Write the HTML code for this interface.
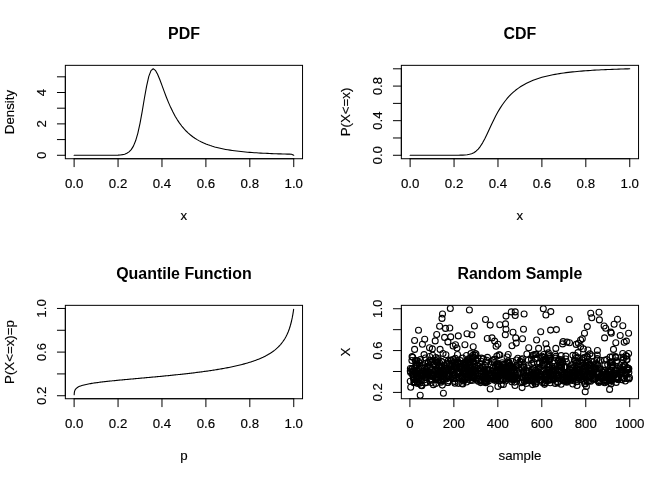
<!DOCTYPE html>
<html><head><meta charset="utf-8"><style>
html,body{margin:0;padding:0;background:#fff;}
svg{display:block;will-change:transform;}
text{font-family:"Liberation Sans", sans-serif;text-anchor:middle;fill:#000;stroke:#000;stroke-width:0.15px;} text[font-weight="bold"]{stroke:none;}
</style></head><body>
<svg width="672" height="480" viewBox="0 0 672 480">
<g stroke="#000" stroke-width="1" fill="none" stroke-linecap="round">
<rect x="65.34" y="65.34" width="237.20" height="93.39" fill="none"/>
<line x1="74.12" y1="158.73" x2="293.75" y2="158.73"/>
<line x1="74.12" y1="158.73" x2="74.12" y2="166.69"/>
<line x1="118.05" y1="158.73" x2="118.05" y2="166.69"/>
<line x1="161.97" y1="158.73" x2="161.97" y2="166.69"/>
<line x1="205.90" y1="158.73" x2="205.90" y2="166.69"/>
<line x1="249.82" y1="158.73" x2="249.82" y2="166.69"/>
<line x1="293.75" y1="158.73" x2="293.75" y2="166.69"/>
<text x="74.12" y="188.21" font-size="13.28">0.0</text>
<text x="118.05" y="188.21" font-size="13.28">0.2</text>
<text x="161.97" y="188.21" font-size="13.28">0.4</text>
<text x="205.90" y="188.21" font-size="13.28">0.6</text>
<text x="249.82" y="188.21" font-size="13.28">0.8</text>
<text x="293.75" y="188.21" font-size="13.28">1.0</text>
<line x1="65.34" y1="155.27" x2="65.34" y2="76.82"/>
<line x1="65.34" y1="155.27" x2="57.37" y2="155.27"/>
<line x1="65.34" y1="139.58" x2="57.37" y2="139.58"/>
<line x1="65.34" y1="123.89" x2="57.37" y2="123.89"/>
<line x1="65.34" y1="108.20" x2="57.37" y2="108.20"/>
<line x1="65.34" y1="92.51" x2="57.37" y2="92.51"/>
<line x1="65.34" y1="76.82" x2="57.37" y2="76.82"/>
<text x="0" y="0" transform="translate(46.21,155.27) rotate(-90)" font-size="13.28">0</text>
<text x="0" y="0" transform="translate(46.21,123.89) rotate(-90)" font-size="13.28">2</text>
<text x="0" y="0" transform="translate(46.21,92.51) rotate(-90)" font-size="13.28">4</text>
<text x="183.94" y="38.57" font-size="15.94" font-weight="bold">PDF</text>
<text x="183.94" y="220.08" font-size="13.28">x</text>
<text x="0" y="0" transform="translate(14.34,112.03) rotate(-90)" font-size="13.28">Density</text>
<path d="M74.12,155.27 L76.32,155.27 L78.52,155.27 L80.71,155.27 L82.91,155.27 L85.10,155.27 L87.30,155.27 L89.50,155.27 L91.69,155.27 L93.89,155.27 L96.09,155.27 L98.28,155.27 L100.48,155.27 L102.67,155.27 L104.87,155.27 L107.07,155.26 L109.26,155.26 L111.46,155.25 L113.66,155.23 L115.85,155.18 L118.05,155.10 L120.24,154.95 L122.44,154.66 L124.64,154.17 L126.83,153.32 L129.03,151.91 L131.23,149.64 L133.42,146.10 L135.62,140.81 L137.81,133.30 L140.01,123.37 L142.21,111.32 L144.40,98.28 L146.60,86.03 L148.80,76.40 L150.99,70.60 L153.19,68.80 L155.38,70.35 L157.58,74.26 L159.78,79.53 L161.97,85.42 L164.17,91.42 L166.37,97.21 L168.56,102.62 L170.76,107.60 L172.95,112.11 L175.15,116.18 L177.35,119.84 L179.54,123.11 L181.74,126.04 L183.94,128.66 L186.13,131.01 L188.33,133.12 L190.52,135.01 L192.72,136.72 L194.92,138.25 L197.11,139.63 L199.31,140.88 L201.51,142.01 L203.70,143.04 L205.90,143.97 L208.09,144.82 L210.29,145.59 L212.49,146.29 L214.68,146.93 L216.88,147.52 L219.08,148.06 L221.27,148.55 L223.47,149.01 L225.67,149.42 L227.86,149.81 L230.06,150.16 L232.25,150.49 L234.45,150.79 L236.65,151.07 L238.84,151.32 L241.04,151.56 L243.24,151.78 L245.43,151.99 L247.63,152.18 L249.82,152.36 L252.02,152.52 L254.22,152.68 L256.41,152.82 L258.61,152.96 L260.81,153.08 L263.00,153.20 L265.20,153.31 L267.39,153.41 L269.59,153.51 L271.79,153.60 L273.98,153.68 L276.18,153.76 L278.38,153.84 L280.57,153.91 L282.77,153.97 L284.96,154.04 L287.16,154.10 L289.36,154.15 L291.55,154.20 L293.75,155.27" fill="none" stroke-width="1.1" stroke-linejoin="round" stroke-linecap="round"/>
<rect x="401.34" y="65.34" width="237.20" height="93.39" fill="none"/>
<line x1="410.12" y1="158.73" x2="629.75" y2="158.73"/>
<line x1="410.12" y1="158.73" x2="410.12" y2="166.69"/>
<line x1="454.05" y1="158.73" x2="454.05" y2="166.69"/>
<line x1="497.97" y1="158.73" x2="497.97" y2="166.69"/>
<line x1="541.90" y1="158.73" x2="541.90" y2="166.69"/>
<line x1="585.82" y1="158.73" x2="585.82" y2="166.69"/>
<line x1="629.75" y1="158.73" x2="629.75" y2="166.69"/>
<text x="410.12" y="188.21" font-size="13.28">0.0</text>
<text x="454.05" y="188.21" font-size="13.28">0.2</text>
<text x="497.97" y="188.21" font-size="13.28">0.4</text>
<text x="541.90" y="188.21" font-size="13.28">0.6</text>
<text x="585.82" y="188.21" font-size="13.28">0.8</text>
<text x="629.75" y="188.21" font-size="13.28">1.0</text>
<line x1="401.34" y1="155.27" x2="401.34" y2="68.80"/>
<line x1="401.34" y1="155.27" x2="393.37" y2="155.27"/>
<line x1="401.34" y1="137.97" x2="393.37" y2="137.97"/>
<line x1="401.34" y1="120.68" x2="393.37" y2="120.68"/>
<line x1="401.34" y1="103.38" x2="393.37" y2="103.38"/>
<line x1="401.34" y1="86.09" x2="393.37" y2="86.09"/>
<line x1="401.34" y1="68.80" x2="393.37" y2="68.80"/>
<text x="0" y="0" transform="translate(382.21,155.27) rotate(-90)" font-size="13.28">0.0</text>
<text x="0" y="0" transform="translate(382.21,120.68) rotate(-90)" font-size="13.28">0.4</text>
<text x="0" y="0" transform="translate(382.21,86.09) rotate(-90)" font-size="13.28">0.8</text>
<text x="519.94" y="38.57" font-size="15.94" font-weight="bold">CDF</text>
<text x="519.94" y="220.08" font-size="13.28">x</text>
<text x="0" y="0" transform="translate(350.34,112.03) rotate(-90)" font-size="13.28">P(X&lt;=x)</text>
<path d="M410.12,155.27 L412.32,155.27 L414.52,155.27 L416.71,155.27 L418.91,155.27 L421.10,155.27 L423.30,155.27 L425.50,155.27 L427.69,155.27 L429.89,155.27 L432.09,155.27 L434.28,155.27 L436.48,155.27 L438.67,155.27 L440.87,155.27 L443.07,155.27 L445.26,155.27 L447.46,155.27 L449.66,155.26 L451.85,155.26 L454.05,155.25 L456.24,155.24 L458.44,155.22 L460.64,155.17 L462.83,155.09 L465.03,154.95 L467.23,154.70 L469.42,154.30 L471.62,153.66 L473.81,152.67 L476.01,151.19 L478.21,149.11 L480.40,146.33 L482.60,142.85 L484.80,138.75 L486.99,134.22 L489.19,129.49 L491.38,124.75 L493.58,120.17 L495.78,115.85 L497.97,111.83 L500.17,108.15 L502.37,104.79 L504.56,101.74 L506.76,98.98 L508.95,96.48 L511.15,94.22 L513.35,92.16 L515.54,90.30 L517.74,88.61 L519.94,87.08 L522.13,85.67 L524.33,84.40 L526.52,83.23 L528.72,82.16 L530.92,81.18 L533.11,80.28 L535.31,79.46 L537.51,78.69 L539.70,77.99 L541.90,77.34 L544.09,76.75 L546.29,76.19 L548.49,75.68 L550.68,75.20 L552.88,74.76 L555.08,74.35 L557.27,73.96 L559.47,73.60 L561.67,73.27 L563.86,72.96 L566.06,72.67 L568.25,72.40 L570.45,72.14 L572.65,71.90 L574.84,71.68 L577.04,71.47 L579.24,71.27 L581.43,71.08 L583.63,70.91 L585.82,70.74 L588.02,70.59 L590.22,70.44 L592.41,70.30 L594.61,70.17 L596.81,70.05 L599.00,69.93 L601.20,69.82 L603.39,69.71 L605.59,69.61 L607.79,69.52 L609.98,69.43 L612.18,69.34 L614.38,69.26 L616.57,69.19 L618.77,69.11 L620.96,69.04 L623.16,68.98 L625.36,68.91 L627.55,68.85 L629.75,68.80" fill="none" stroke-width="1.1" stroke-linejoin="round" stroke-linecap="round"/>
<rect x="65.34" y="305.34" width="237.20" height="93.39" fill="none"/>
<line x1="74.12" y1="398.73" x2="293.75" y2="398.73"/>
<line x1="74.12" y1="398.73" x2="74.12" y2="406.69"/>
<line x1="118.05" y1="398.73" x2="118.05" y2="406.69"/>
<line x1="161.97" y1="398.73" x2="161.97" y2="406.69"/>
<line x1="205.90" y1="398.73" x2="205.90" y2="406.69"/>
<line x1="249.82" y1="398.73" x2="249.82" y2="406.69"/>
<line x1="293.75" y1="398.73" x2="293.75" y2="406.69"/>
<text x="74.12" y="428.21" font-size="13.28">0.0</text>
<text x="118.05" y="428.21" font-size="13.28">0.2</text>
<text x="161.97" y="428.21" font-size="13.28">0.4</text>
<text x="205.90" y="428.21" font-size="13.28">0.6</text>
<text x="249.82" y="428.21" font-size="13.28">0.8</text>
<text x="293.75" y="428.21" font-size="13.28">1.0</text>
<line x1="65.34" y1="395.74" x2="65.34" y2="308.46"/>
<line x1="65.34" y1="395.74" x2="57.37" y2="395.74"/>
<line x1="65.34" y1="373.92" x2="57.37" y2="373.92"/>
<line x1="65.34" y1="352.10" x2="57.37" y2="352.10"/>
<line x1="65.34" y1="330.28" x2="57.37" y2="330.28"/>
<line x1="65.34" y1="308.46" x2="57.37" y2="308.46"/>
<text x="0" y="0" transform="translate(46.21,395.74) rotate(-90)" font-size="13.28">0.2</text>
<text x="0" y="0" transform="translate(46.21,352.10) rotate(-90)" font-size="13.28">0.6</text>
<text x="0" y="0" transform="translate(46.21,308.46) rotate(-90)" font-size="13.28">1.0</text>
<text x="183.94" y="278.57" font-size="15.94" font-weight="bold">Quantile Function</text>
<text x="183.94" y="460.08" font-size="13.28">p</text>
<text x="0" y="0" transform="translate(14.34,352.03) rotate(-90)" font-size="13.28">P(X&lt;=x)=p</text>
<path d="M74.19,394.64 L74.23,393.82 L74.34,392.65 L74.56,391.43 L75.00,390.15 L75.66,389.05 L76.32,388.33 L77.42,387.48 L78.52,386.85 L79.61,386.35 L80.71,385.93 L81.81,385.56 L82.91,385.24 L84.01,384.95 L85.10,384.68 L86.20,384.43 L87.30,384.20 L88.40,383.99 L89.50,383.79 L90.59,383.60 L91.69,383.41 L92.79,383.24 L93.89,383.07 L94.99,382.91 L96.09,382.75 L97.18,382.60 L98.28,382.45 L99.38,382.31 L100.48,382.17 L101.58,382.04 L102.67,381.91 L103.77,381.78 L104.87,381.65 L105.97,381.53 L107.07,381.40 L108.16,381.28 L109.26,381.17 L110.36,381.05 L111.46,380.94 L112.56,380.82 L113.66,380.71 L114.75,380.60 L115.85,380.49 L116.95,380.38 L118.05,380.28 L119.15,380.17 L120.24,380.06 L121.34,379.96 L122.44,379.85 L123.54,379.75 L124.64,379.65 L125.73,379.55 L126.83,379.45 L127.93,379.34 L129.03,379.24 L130.13,379.14 L131.23,379.04 L132.32,378.94 L133.42,378.84 L134.52,378.74 L135.62,378.64 L136.72,378.55 L137.81,378.45 L138.91,378.35 L140.01,378.25 L141.11,378.15 L142.21,378.05 L143.31,377.95 L144.40,377.85 L145.50,377.75 L146.60,377.65 L147.70,377.55 L148.80,377.45 L149.89,377.35 L150.99,377.25 L152.09,377.15 L153.19,377.05 L154.29,376.95 L155.38,376.85 L156.48,376.75 L157.58,376.64 L158.68,376.54 L159.78,376.44 L160.88,376.33 L161.97,376.23 L163.07,376.12 L164.17,376.02 L165.27,375.91 L166.37,375.80 L167.46,375.70 L168.56,375.59 L169.66,375.48 L170.76,375.37 L171.86,375.26 L172.95,375.15 L174.05,375.03 L175.15,374.92 L176.25,374.81 L177.35,374.69 L178.45,374.57 L179.54,374.46 L180.64,374.34 L181.74,374.22 L182.84,374.10 L183.94,373.98 L185.03,373.86 L186.13,373.73 L187.23,373.61 L188.33,373.48 L189.43,373.35 L190.52,373.22 L191.62,373.09 L192.72,372.96 L193.82,372.83 L194.92,372.69 L196.02,372.56 L197.11,372.42 L198.21,372.28 L199.31,372.14 L200.41,371.99 L201.51,371.85 L202.60,371.70 L203.70,371.55 L204.80,371.40 L205.90,371.25 L207.00,371.09 L208.09,370.94 L209.19,370.78 L210.29,370.62 L211.39,370.45 L212.49,370.29 L213.59,370.12 L214.68,369.94 L215.78,369.77 L216.88,369.59 L217.98,369.41 L219.08,369.23 L220.17,369.04 L221.27,368.85 L222.37,368.66 L223.47,368.46 L224.57,368.26 L225.67,368.06 L226.76,367.85 L227.86,367.64 L228.96,367.42 L230.06,367.20 L231.16,366.98 L232.25,366.75 L233.35,366.51 L234.45,366.27 L235.55,366.03 L236.65,365.78 L237.74,365.52 L238.84,365.26 L239.94,364.99 L241.04,364.72 L242.14,364.44 L243.24,364.15 L244.33,363.86 L245.43,363.55 L246.53,363.24 L247.63,362.92 L248.73,362.59 L249.82,362.26 L250.92,361.91 L252.02,361.55 L253.12,361.18 L254.22,360.80 L255.31,360.40 L256.41,360.00 L257.51,359.58 L258.61,359.14 L259.71,358.69 L260.81,358.22 L261.90,357.73 L263.00,357.23 L264.10,356.70 L265.20,356.15 L266.30,355.58 L267.39,354.98 L268.49,354.35 L269.59,353.69 L270.69,353.00 L271.79,352.27 L272.88,351.51 L273.98,350.69 L275.08,349.83 L276.18,348.91 L277.28,347.93 L278.38,346.88 L279.47,345.75 L280.57,344.53 L281.67,343.21 L282.77,341.76 L283.87,340.17 L284.96,338.42 L286.06,336.45 L287.16,334.23 L288.26,331.70 L289.36,328.75 L290.45,325.26 L291.55,321.00 L292.21,317.94 L292.87,314.36 L293.31,311.61 L293.53,310.09 L293.64,309.29" fill="none" stroke-width="1.1" stroke-linejoin="round" stroke-linecap="round"/>
<rect x="401.34" y="305.34" width="237.20" height="93.39" fill="none"/>
<line x1="409.90" y1="398.73" x2="629.75" y2="398.73"/>
<line x1="409.90" y1="398.73" x2="409.90" y2="406.69"/>
<line x1="453.87" y1="398.73" x2="453.87" y2="406.69"/>
<line x1="497.84" y1="398.73" x2="497.84" y2="406.69"/>
<line x1="541.81" y1="398.73" x2="541.81" y2="406.69"/>
<line x1="585.78" y1="398.73" x2="585.78" y2="406.69"/>
<line x1="629.75" y1="398.73" x2="629.75" y2="406.69"/>
<text x="409.90" y="428.21" font-size="13.28">0</text>
<text x="453.87" y="428.21" font-size="13.28">200</text>
<text x="497.84" y="428.21" font-size="13.28">400</text>
<text x="541.81" y="428.21" font-size="13.28">600</text>
<text x="585.78" y="428.21" font-size="13.28">800</text>
<text x="629.75" y="428.21" font-size="13.28">1000</text>
<line x1="401.34" y1="392.40" x2="401.34" y2="308.74"/>
<line x1="401.34" y1="392.40" x2="393.37" y2="392.40"/>
<line x1="401.34" y1="371.49" x2="393.37" y2="371.49"/>
<line x1="401.34" y1="350.57" x2="393.37" y2="350.57"/>
<line x1="401.34" y1="329.66" x2="393.37" y2="329.66"/>
<line x1="401.34" y1="308.74" x2="393.37" y2="308.74"/>
<text x="0" y="0" transform="translate(382.21,392.40) rotate(-90)" font-size="13.28">0.2</text>
<text x="0" y="0" transform="translate(382.21,350.57) rotate(-90)" font-size="13.28">0.6</text>
<text x="0" y="0" transform="translate(382.21,308.74) rotate(-90)" font-size="13.28">1.0</text>
<text x="519.94" y="278.57" font-size="15.94" font-weight="bold">Random Sample</text>
<text x="519.94" y="460.08" font-size="13.28">sample</text>
<text x="0" y="0" transform="translate(350.34,352.03) rotate(-90)" font-size="13.28">X</text>
<g fill="none" stroke-width="1.1"><circle cx="512.34" cy="379.35" r="2.988"/><circle cx="536.37" cy="372.72" r="2.988"/><circle cx="496.27" cy="370.64" r="2.988"/><circle cx="521.19" cy="382.70" r="2.988"/><circle cx="549.81" cy="378.92" r="2.988"/><circle cx="597.19" cy="358.62" r="2.988"/><circle cx="533.34" cy="380.91" r="2.988"/><circle cx="494.14" cy="379.32" r="2.988"/><circle cx="621.29" cy="357.19" r="2.988"/><circle cx="448.01" cy="370.18" r="2.988"/><circle cx="420.11" cy="375.01" r="2.988"/><circle cx="609.62" cy="372.49" r="2.988"/><circle cx="468.51" cy="369.19" r="2.988"/><circle cx="443.40" cy="376.57" r="2.988"/><circle cx="494.74" cy="379.14" r="2.988"/><circle cx="485.43" cy="365.43" r="2.988"/><circle cx="488.02" cy="369.00" r="2.988"/><circle cx="597.05" cy="372.47" r="2.988"/><circle cx="473.91" cy="364.34" r="2.988"/><circle cx="439.26" cy="371.75" r="2.988"/><circle cx="457.49" cy="354.44" r="2.988"/><circle cx="618.70" cy="377.81" r="2.988"/><circle cx="504.31" cy="371.66" r="2.988"/><circle cx="489.35" cy="373.01" r="2.988"/><circle cx="580.85" cy="375.27" r="2.988"/><circle cx="615.61" cy="370.86" r="2.988"/><circle cx="522.18" cy="377.26" r="2.988"/><circle cx="589.02" cy="364.91" r="2.988"/><circle cx="468.23" cy="362.10" r="2.988"/><circle cx="487.09" cy="379.34" r="2.988"/><circle cx="536.72" cy="373.31" r="2.988"/><circle cx="462.04" cy="376.54" r="2.988"/><circle cx="470.57" cy="380.52" r="2.988"/><circle cx="451.31" cy="360.60" r="2.988"/><circle cx="467.73" cy="373.97" r="2.988"/><circle cx="594.46" cy="378.93" r="2.988"/><circle cx="584.68" cy="368.92" r="2.988"/><circle cx="435.15" cy="377.86" r="2.988"/><circle cx="486.76" cy="360.28" r="2.988"/><circle cx="568.75" cy="377.58" r="2.988"/><circle cx="598.94" cy="382.45" r="2.988"/><circle cx="533.16" cy="377.88" r="2.988"/><circle cx="569.71" cy="375.40" r="2.988"/><circle cx="462.26" cy="373.28" r="2.988"/><circle cx="581.83" cy="360.01" r="2.988"/><circle cx="590.41" cy="368.28" r="2.988"/><circle cx="499.51" cy="375.50" r="2.988"/><circle cx="461.92" cy="383.50" r="2.988"/><circle cx="417.39" cy="378.67" r="2.988"/><circle cx="548.39" cy="352.89" r="2.988"/><circle cx="549.04" cy="373.44" r="2.988"/><circle cx="410.39" cy="368.45" r="2.988"/><circle cx="524.36" cy="381.47" r="2.988"/><circle cx="616.23" cy="382.40" r="2.988"/><circle cx="416.46" cy="363.11" r="2.988"/><circle cx="440.30" cy="370.94" r="2.988"/><circle cx="422.81" cy="376.01" r="2.988"/><circle cx="506.00" cy="375.87" r="2.988"/><circle cx="494.63" cy="380.34" r="2.988"/><circle cx="601.23" cy="378.42" r="2.988"/><circle cx="424.71" cy="382.95" r="2.988"/><circle cx="454.16" cy="363.41" r="2.988"/><circle cx="616.13" cy="373.32" r="2.988"/><circle cx="414.30" cy="379.38" r="2.988"/><circle cx="467.04" cy="367.06" r="2.988"/><circle cx="496.71" cy="377.98" r="2.988"/><circle cx="410.25" cy="381.20" r="2.988"/><circle cx="473.20" cy="370.71" r="2.988"/><circle cx="542.54" cy="360.61" r="2.988"/><circle cx="545.25" cy="382.80" r="2.988"/><circle cx="543.82" cy="364.80" r="2.988"/><circle cx="553.06" cy="378.08" r="2.988"/><circle cx="545.08" cy="380.24" r="2.988"/><circle cx="417.71" cy="383.42" r="2.988"/><circle cx="553.93" cy="376.28" r="2.988"/><circle cx="538.34" cy="367.43" r="2.988"/><circle cx="457.95" cy="372.83" r="2.988"/><circle cx="502.26" cy="362.79" r="2.988"/><circle cx="462.32" cy="377.58" r="2.988"/><circle cx="600.76" cy="375.91" r="2.988"/><circle cx="471.35" cy="376.87" r="2.988"/><circle cx="445.90" cy="354.69" r="2.988"/><circle cx="585.08" cy="357.73" r="2.988"/><circle cx="577.29" cy="375.48" r="2.988"/><circle cx="597.28" cy="373.86" r="2.988"/><circle cx="558.89" cy="375.92" r="2.988"/><circle cx="501.67" cy="366.83" r="2.988"/><circle cx="514.56" cy="382.10" r="2.988"/><circle cx="532.06" cy="381.01" r="2.988"/><circle cx="541.02" cy="374.42" r="2.988"/><circle cx="617.71" cy="377.09" r="2.988"/><circle cx="468.41" cy="363.14" r="2.988"/><circle cx="578.89" cy="366.98" r="2.988"/><circle cx="413.84" cy="371.82" r="2.988"/><circle cx="451.90" cy="369.23" r="2.988"/><circle cx="617.54" cy="368.42" r="2.988"/><circle cx="465.27" cy="365.68" r="2.988"/><circle cx="522.36" cy="358.67" r="2.988"/><circle cx="611.41" cy="378.88" r="2.988"/><circle cx="553.88" cy="370.08" r="2.988"/><circle cx="517.40" cy="379.01" r="2.988"/><circle cx="564.26" cy="373.74" r="2.988"/><circle cx="625.00" cy="365.49" r="2.988"/><circle cx="616.84" cy="360.67" r="2.988"/><circle cx="449.93" cy="366.42" r="2.988"/><circle cx="440.88" cy="382.33" r="2.988"/><circle cx="473.36" cy="375.17" r="2.988"/><circle cx="442.00" cy="378.61" r="2.988"/><circle cx="577.93" cy="352.63" r="2.988"/><circle cx="593.24" cy="379.01" r="2.988"/><circle cx="441.03" cy="377.11" r="2.988"/><circle cx="426.19" cy="375.21" r="2.988"/><circle cx="481.23" cy="381.24" r="2.988"/><circle cx="560.99" cy="361.95" r="2.988"/><circle cx="579.28" cy="369.84" r="2.988"/><circle cx="511.30" cy="378.68" r="2.988"/><circle cx="550.48" cy="372.74" r="2.988"/><circle cx="611.64" cy="380.65" r="2.988"/><circle cx="603.44" cy="370.43" r="2.988"/><circle cx="435.98" cy="377.33" r="2.988"/><circle cx="566.77" cy="382.17" r="2.988"/><circle cx="580.68" cy="379.66" r="2.988"/><circle cx="609.39" cy="371.62" r="2.988"/><circle cx="501.95" cy="369.83" r="2.988"/><circle cx="444.40" cy="375.75" r="2.988"/><circle cx="514.18" cy="369.67" r="2.988"/><circle cx="491.44" cy="375.29" r="2.988"/><circle cx="496.59" cy="379.30" r="2.988"/><circle cx="586.43" cy="375.91" r="2.988"/><circle cx="553.29" cy="374.56" r="2.988"/><circle cx="559.50" cy="359.62" r="2.988"/><circle cx="553.47" cy="379.65" r="2.988"/><circle cx="441.24" cy="380.43" r="2.988"/><circle cx="422.94" cy="371.50" r="2.988"/><circle cx="496.89" cy="356.00" r="2.988"/><circle cx="596.74" cy="359.94" r="2.988"/><circle cx="552.59" cy="368.20" r="2.988"/><circle cx="583.93" cy="381.03" r="2.988"/><circle cx="546.83" cy="364.75" r="2.988"/><circle cx="582.38" cy="368.66" r="2.988"/><circle cx="628.91" cy="379.01" r="2.988"/><circle cx="566.78" cy="373.35" r="2.988"/><circle cx="599.37" cy="381.69" r="2.988"/><circle cx="623.79" cy="364.92" r="2.988"/><circle cx="572.78" cy="367.68" r="2.988"/><circle cx="588.68" cy="364.82" r="2.988"/><circle cx="427.38" cy="366.38" r="2.988"/><circle cx="418.11" cy="376.71" r="2.988"/><circle cx="612.93" cy="365.37" r="2.988"/><circle cx="462.33" cy="377.02" r="2.988"/><circle cx="477.18" cy="379.14" r="2.988"/><circle cx="439.82" cy="374.65" r="2.988"/><circle cx="549.48" cy="372.74" r="2.988"/><circle cx="416.64" cy="376.40" r="2.988"/><circle cx="585.62" cy="370.55" r="2.988"/><circle cx="475.66" cy="370.62" r="2.988"/><circle cx="573.50" cy="377.18" r="2.988"/><circle cx="610.14" cy="370.17" r="2.988"/><circle cx="561.73" cy="375.20" r="2.988"/><circle cx="503.37" cy="367.20" r="2.988"/><circle cx="547.37" cy="376.32" r="2.988"/><circle cx="597.97" cy="365.04" r="2.988"/><circle cx="566.34" cy="374.23" r="2.988"/><circle cx="465.52" cy="371.67" r="2.988"/><circle cx="411.80" cy="368.92" r="2.988"/><circle cx="603.34" cy="372.35" r="2.988"/><circle cx="547.04" cy="376.88" r="2.988"/><circle cx="424.07" cy="354.59" r="2.988"/><circle cx="531.13" cy="380.15" r="2.988"/><circle cx="539.49" cy="375.74" r="2.988"/><circle cx="474.55" cy="371.75" r="2.988"/><circle cx="604.72" cy="382.70" r="2.988"/><circle cx="462.78" cy="378.78" r="2.988"/><circle cx="441.71" cy="365.02" r="2.988"/><circle cx="478.06" cy="365.58" r="2.988"/><circle cx="484.44" cy="369.83" r="2.988"/><circle cx="604.29" cy="360.26" r="2.988"/><circle cx="554.43" cy="366.54" r="2.988"/><circle cx="436.90" cy="376.18" r="2.988"/><circle cx="496.58" cy="369.64" r="2.988"/><circle cx="432.69" cy="375.49" r="2.988"/><circle cx="565.12" cy="366.73" r="2.988"/><circle cx="597.89" cy="374.74" r="2.988"/><circle cx="430.66" cy="378.81" r="2.988"/><circle cx="519.91" cy="361.64" r="2.988"/><circle cx="463.85" cy="368.47" r="2.988"/><circle cx="472.73" cy="366.89" r="2.988"/><circle cx="574.14" cy="371.54" r="2.988"/><circle cx="624.70" cy="365.61" r="2.988"/><circle cx="471.38" cy="373.65" r="2.988"/><circle cx="529.28" cy="371.41" r="2.988"/><circle cx="478.28" cy="381.18" r="2.988"/><circle cx="423.77" cy="371.63" r="2.988"/><circle cx="542.44" cy="364.43" r="2.988"/><circle cx="444.24" cy="368.05" r="2.988"/><circle cx="561.15" cy="364.87" r="2.988"/><circle cx="574.23" cy="372.78" r="2.988"/><circle cx="441.39" cy="361.39" r="2.988"/><circle cx="541.08" cy="379.83" r="2.988"/><circle cx="455.88" cy="361.68" r="2.988"/><circle cx="577.73" cy="374.97" r="2.988"/><circle cx="472.92" cy="380.29" r="2.988"/><circle cx="561.57" cy="370.24" r="2.988"/><circle cx="552.42" cy="373.53" r="2.988"/><circle cx="536.45" cy="374.00" r="2.988"/><circle cx="457.92" cy="362.83" r="2.988"/><circle cx="593.35" cy="379.14" r="2.988"/><circle cx="488.05" cy="370.29" r="2.988"/><circle cx="579.36" cy="374.25" r="2.988"/><circle cx="514.44" cy="372.16" r="2.988"/><circle cx="508.53" cy="372.72" r="2.988"/><circle cx="566.55" cy="379.22" r="2.988"/><circle cx="484.98" cy="372.48" r="2.988"/><circle cx="577.80" cy="362.35" r="2.988"/><circle cx="507.84" cy="378.45" r="2.988"/><circle cx="572.77" cy="383.98" r="2.988"/><circle cx="563.32" cy="381.01" r="2.988"/><circle cx="617.74" cy="373.44" r="2.988"/><circle cx="499.87" cy="355.04" r="2.988"/><circle cx="486.77" cy="381.91" r="2.988"/><circle cx="628.61" cy="353.46" r="2.988"/><circle cx="523.53" cy="372.01" r="2.988"/><circle cx="502.03" cy="379.54" r="2.988"/><circle cx="564.02" cy="374.17" r="2.988"/><circle cx="465.06" cy="377.76" r="2.988"/><circle cx="620.47" cy="367.81" r="2.988"/><circle cx="575.69" cy="371.90" r="2.988"/><circle cx="552.67" cy="376.36" r="2.988"/><circle cx="474.22" cy="376.91" r="2.988"/><circle cx="587.87" cy="362.12" r="2.988"/><circle cx="611.99" cy="366.19" r="2.988"/><circle cx="583.94" cy="373.86" r="2.988"/><circle cx="610.49" cy="374.39" r="2.988"/><circle cx="430.37" cy="367.11" r="2.988"/><circle cx="572.92" cy="355.37" r="2.988"/><circle cx="600.39" cy="380.62" r="2.988"/><circle cx="514.70" cy="378.69" r="2.988"/><circle cx="427.72" cy="375.12" r="2.988"/><circle cx="529.29" cy="372.56" r="2.988"/><circle cx="463.39" cy="380.88" r="2.988"/><circle cx="417.28" cy="381.52" r="2.988"/><circle cx="615.65" cy="377.54" r="2.988"/><circle cx="592.92" cy="374.72" r="2.988"/><circle cx="549.47" cy="367.06" r="2.988"/><circle cx="574.52" cy="370.45" r="2.988"/><circle cx="557.59" cy="382.67" r="2.988"/><circle cx="511.77" cy="381.87" r="2.988"/><circle cx="436.76" cy="373.58" r="2.988"/><circle cx="473.54" cy="361.72" r="2.988"/><circle cx="521.27" cy="359.47" r="2.988"/><circle cx="537.96" cy="375.07" r="2.988"/><circle cx="476.34" cy="361.07" r="2.988"/><circle cx="438.06" cy="358.56" r="2.988"/><circle cx="485.31" cy="374.37" r="2.988"/><circle cx="450.89" cy="366.85" r="2.988"/><circle cx="614.50" cy="375.07" r="2.988"/><circle cx="458.65" cy="378.80" r="2.988"/><circle cx="496.67" cy="371.21" r="2.988"/><circle cx="529.13" cy="380.42" r="2.988"/><circle cx="465.53" cy="369.18" r="2.988"/><circle cx="518.82" cy="364.64" r="2.988"/><circle cx="531.51" cy="359.45" r="2.988"/><circle cx="420.91" cy="373.65" r="2.988"/><circle cx="618.20" cy="379.61" r="2.988"/><circle cx="528.28" cy="360.22" r="2.988"/><circle cx="442.20" cy="361.95" r="2.988"/><circle cx="625.89" cy="355.64" r="2.988"/><circle cx="447.07" cy="370.81" r="2.988"/><circle cx="569.89" cy="368.92" r="2.988"/><circle cx="516.08" cy="374.94" r="2.988"/><circle cx="466.69" cy="378.21" r="2.988"/><circle cx="493.50" cy="376.30" r="2.988"/><circle cx="515.81" cy="367.62" r="2.988"/><circle cx="491.59" cy="375.74" r="2.988"/><circle cx="464.38" cy="368.44" r="2.988"/><circle cx="501.51" cy="372.66" r="2.988"/><circle cx="505.84" cy="373.63" r="2.988"/><circle cx="561.17" cy="355.64" r="2.988"/><circle cx="453.51" cy="378.55" r="2.988"/><circle cx="420.11" cy="372.94" r="2.988"/><circle cx="593.24" cy="378.68" r="2.988"/><circle cx="425.34" cy="357.98" r="2.988"/><circle cx="548.80" cy="372.92" r="2.988"/><circle cx="530.69" cy="375.63" r="2.988"/><circle cx="624.27" cy="378.50" r="2.988"/><circle cx="451.84" cy="370.80" r="2.988"/><circle cx="605.08" cy="374.50" r="2.988"/><circle cx="438.74" cy="379.38" r="2.988"/><circle cx="447.79" cy="382.49" r="2.988"/><circle cx="553.71" cy="374.63" r="2.988"/><circle cx="446.51" cy="371.04" r="2.988"/><circle cx="538.94" cy="372.35" r="2.988"/><circle cx="558.37" cy="360.36" r="2.988"/><circle cx="437.67" cy="359.68" r="2.988"/><circle cx="583.66" cy="358.07" r="2.988"/><circle cx="503.04" cy="365.00" r="2.988"/><circle cx="622.51" cy="373.12" r="2.988"/><circle cx="412.63" cy="372.25" r="2.988"/><circle cx="427.38" cy="374.53" r="2.988"/><circle cx="546.32" cy="374.49" r="2.988"/><circle cx="466.61" cy="382.03" r="2.988"/><circle cx="498.56" cy="365.03" r="2.988"/><circle cx="609.74" cy="377.08" r="2.988"/><circle cx="485.64" cy="382.66" r="2.988"/><circle cx="421.38" cy="373.32" r="2.988"/><circle cx="441.54" cy="367.70" r="2.988"/><circle cx="532.14" cy="373.86" r="2.988"/><circle cx="580.28" cy="375.09" r="2.988"/><circle cx="576.55" cy="369.30" r="2.988"/><circle cx="513.69" cy="378.61" r="2.988"/><circle cx="462.75" cy="383.99" r="2.988"/><circle cx="438.35" cy="370.84" r="2.988"/><circle cx="459.16" cy="372.12" r="2.988"/><circle cx="454.13" cy="362.17" r="2.988"/><circle cx="609.42" cy="374.21" r="2.988"/><circle cx="499.68" cy="365.50" r="2.988"/><circle cx="435.75" cy="383.42" r="2.988"/><circle cx="550.28" cy="382.78" r="2.988"/><circle cx="510.54" cy="370.71" r="2.988"/><circle cx="416.51" cy="377.42" r="2.988"/><circle cx="625.30" cy="381.02" r="2.988"/><circle cx="617.95" cy="379.37" r="2.988"/><circle cx="467.79" cy="374.91" r="2.988"/><circle cx="593.07" cy="375.54" r="2.988"/><circle cx="510.08" cy="371.45" r="2.988"/><circle cx="558.08" cy="361.06" r="2.988"/><circle cx="553.62" cy="375.06" r="2.988"/><circle cx="570.87" cy="378.19" r="2.988"/><circle cx="506.87" cy="371.15" r="2.988"/><circle cx="442.32" cy="385.12" r="2.988"/><circle cx="586.77" cy="374.74" r="2.988"/><circle cx="506.85" cy="375.87" r="2.988"/><circle cx="507.21" cy="374.70" r="2.988"/><circle cx="576.88" cy="381.63" r="2.988"/><circle cx="560.65" cy="371.65" r="2.988"/><circle cx="627.33" cy="370.13" r="2.988"/><circle cx="495.32" cy="366.74" r="2.988"/><circle cx="549.56" cy="356.48" r="2.988"/><circle cx="428.52" cy="375.25" r="2.988"/><circle cx="434.84" cy="369.36" r="2.988"/><circle cx="466.06" cy="373.76" r="2.988"/><circle cx="471.61" cy="377.62" r="2.988"/><circle cx="508.12" cy="360.96" r="2.988"/><circle cx="460.38" cy="366.85" r="2.988"/><circle cx="615.72" cy="357.60" r="2.988"/><circle cx="504.12" cy="364.15" r="2.988"/><circle cx="494.10" cy="359.32" r="2.988"/><circle cx="608.23" cy="379.36" r="2.988"/><circle cx="584.88" cy="383.60" r="2.988"/><circle cx="579.27" cy="377.92" r="2.988"/><circle cx="610.88" cy="374.28" r="2.988"/><circle cx="571.89" cy="368.55" r="2.988"/><circle cx="477.24" cy="373.82" r="2.988"/><circle cx="621.26" cy="372.45" r="2.988"/><circle cx="416.08" cy="366.37" r="2.988"/><circle cx="607.15" cy="380.91" r="2.988"/><circle cx="502.24" cy="368.79" r="2.988"/><circle cx="484.28" cy="381.71" r="2.988"/><circle cx="514.35" cy="377.03" r="2.988"/><circle cx="497.93" cy="367.57" r="2.988"/><circle cx="599.10" cy="368.67" r="2.988"/><circle cx="587.16" cy="374.39" r="2.988"/><circle cx="574.11" cy="376.25" r="2.988"/><circle cx="461.23" cy="363.88" r="2.988"/><circle cx="506.73" cy="376.58" r="2.988"/><circle cx="426.60" cy="382.55" r="2.988"/><circle cx="573.20" cy="377.05" r="2.988"/><circle cx="419.38" cy="383.18" r="2.988"/><circle cx="497.08" cy="364.58" r="2.988"/><circle cx="443.31" cy="379.49" r="2.988"/><circle cx="597.26" cy="355.08" r="2.988"/><circle cx="611.86" cy="377.66" r="2.988"/><circle cx="473.71" cy="376.06" r="2.988"/><circle cx="601.72" cy="371.00" r="2.988"/><circle cx="449.22" cy="376.02" r="2.988"/><circle cx="566.31" cy="374.84" r="2.988"/><circle cx="465.18" cy="379.94" r="2.988"/><circle cx="507.97" cy="374.67" r="2.988"/><circle cx="544.32" cy="382.91" r="2.988"/><circle cx="487.24" cy="377.46" r="2.988"/><circle cx="453.57" cy="359.81" r="2.988"/><circle cx="539.23" cy="376.48" r="2.988"/><circle cx="584.50" cy="376.65" r="2.988"/><circle cx="628.83" cy="368.77" r="2.988"/><circle cx="480.91" cy="361.31" r="2.988"/><circle cx="466.70" cy="376.23" r="2.988"/><circle cx="426.91" cy="374.88" r="2.988"/><circle cx="455.08" cy="367.79" r="2.988"/><circle cx="415.82" cy="365.28" r="2.988"/><circle cx="464.96" cy="370.37" r="2.988"/><circle cx="569.57" cy="378.29" r="2.988"/><circle cx="435.31" cy="378.26" r="2.988"/><circle cx="552.08" cy="366.47" r="2.988"/><circle cx="474.89" cy="368.02" r="2.988"/><circle cx="460.39" cy="360.58" r="2.988"/><circle cx="516.33" cy="365.72" r="2.988"/><circle cx="505.93" cy="374.12" r="2.988"/><circle cx="508.25" cy="379.24" r="2.988"/><circle cx="435.95" cy="360.90" r="2.988"/><circle cx="534.12" cy="368.33" r="2.988"/><circle cx="608.25" cy="371.19" r="2.988"/><circle cx="412.16" cy="368.70" r="2.988"/><circle cx="427.91" cy="374.74" r="2.988"/><circle cx="538.81" cy="375.44" r="2.988"/><circle cx="480.09" cy="371.21" r="2.988"/><circle cx="465.45" cy="373.02" r="2.988"/><circle cx="627.10" cy="367.96" r="2.988"/><circle cx="477.81" cy="358.08" r="2.988"/><circle cx="612.37" cy="363.04" r="2.988"/><circle cx="545.59" cy="374.70" r="2.988"/><circle cx="416.78" cy="374.95" r="2.988"/><circle cx="468.52" cy="358.71" r="2.988"/><circle cx="426.76" cy="374.58" r="2.988"/><circle cx="528.27" cy="364.98" r="2.988"/><circle cx="609.62" cy="380.24" r="2.988"/><circle cx="421.68" cy="373.60" r="2.988"/><circle cx="416.28" cy="372.40" r="2.988"/><circle cx="416.56" cy="364.65" r="2.988"/><circle cx="470.08" cy="361.58" r="2.988"/><circle cx="446.63" cy="378.82" r="2.988"/><circle cx="622.78" cy="370.29" r="2.988"/><circle cx="580.34" cy="370.01" r="2.988"/><circle cx="616.41" cy="378.85" r="2.988"/><circle cx="537.47" cy="363.65" r="2.988"/><circle cx="590.45" cy="371.66" r="2.988"/><circle cx="565.81" cy="356.14" r="2.988"/><circle cx="474.28" cy="378.15" r="2.988"/><circle cx="553.47" cy="372.23" r="2.988"/><circle cx="473.65" cy="375.77" r="2.988"/><circle cx="512.08" cy="369.70" r="2.988"/><circle cx="590.81" cy="370.50" r="2.988"/><circle cx="458.59" cy="372.47" r="2.988"/><circle cx="448.54" cy="375.75" r="2.988"/><circle cx="597.15" cy="372.63" r="2.988"/><circle cx="511.85" cy="374.95" r="2.988"/><circle cx="448.30" cy="360.88" r="2.988"/><circle cx="479.93" cy="373.41" r="2.988"/><circle cx="471.74" cy="373.16" r="2.988"/><circle cx="606.96" cy="376.86" r="2.988"/><circle cx="513.96" cy="376.94" r="2.988"/><circle cx="612.22" cy="356.76" r="2.988"/><circle cx="513.41" cy="375.93" r="2.988"/><circle cx="616.44" cy="362.05" r="2.988"/><circle cx="611.42" cy="370.79" r="2.988"/><circle cx="534.78" cy="354.48" r="2.988"/><circle cx="582.83" cy="378.59" r="2.988"/><circle cx="473.19" cy="357.69" r="2.988"/><circle cx="435.48" cy="365.98" r="2.988"/><circle cx="542.83" cy="371.36" r="2.988"/><circle cx="422.24" cy="367.96" r="2.988"/><circle cx="512.80" cy="367.57" r="2.988"/><circle cx="546.30" cy="373.64" r="2.988"/><circle cx="578.70" cy="369.89" r="2.988"/><circle cx="607.05" cy="377.38" r="2.988"/><circle cx="454.94" cy="383.17" r="2.988"/><circle cx="600.20" cy="368.84" r="2.988"/><circle cx="519.12" cy="373.18" r="2.988"/><circle cx="546.90" cy="360.04" r="2.988"/><circle cx="511.59" cy="376.77" r="2.988"/><circle cx="596.32" cy="364.29" r="2.988"/><circle cx="476.01" cy="353.92" r="2.988"/><circle cx="411.91" cy="360.48" r="2.988"/><circle cx="592.24" cy="355.91" r="2.988"/><circle cx="555.44" cy="378.69" r="2.988"/><circle cx="567.49" cy="378.57" r="2.988"/><circle cx="437.40" cy="377.39" r="2.988"/><circle cx="455.40" cy="375.13" r="2.988"/><circle cx="547.48" cy="379.66" r="2.988"/><circle cx="574.22" cy="378.86" r="2.988"/><circle cx="555.33" cy="383.38" r="2.988"/><circle cx="541.02" cy="358.28" r="2.988"/><circle cx="553.93" cy="375.14" r="2.988"/><circle cx="442.59" cy="370.08" r="2.988"/><circle cx="509.11" cy="373.54" r="2.988"/><circle cx="482.49" cy="366.94" r="2.988"/><circle cx="571.81" cy="364.76" r="2.988"/><circle cx="523.76" cy="374.77" r="2.988"/><circle cx="568.27" cy="372.02" r="2.988"/><circle cx="562.73" cy="380.11" r="2.988"/><circle cx="608.93" cy="376.40" r="2.988"/><circle cx="598.17" cy="377.48" r="2.988"/><circle cx="421.46" cy="376.02" r="2.988"/><circle cx="556.78" cy="375.75" r="2.988"/><circle cx="492.15" cy="371.21" r="2.988"/><circle cx="432.27" cy="375.61" r="2.988"/><circle cx="515.17" cy="375.71" r="2.988"/><circle cx="595.32" cy="363.74" r="2.988"/><circle cx="585.03" cy="383.91" r="2.988"/><circle cx="433.36" cy="384.68" r="2.988"/><circle cx="454.56" cy="381.38" r="2.988"/><circle cx="562.75" cy="362.19" r="2.988"/><circle cx="622.76" cy="369.90" r="2.988"/><circle cx="427.07" cy="367.40" r="2.988"/><circle cx="429.61" cy="356.46" r="2.988"/><circle cx="562.90" cy="377.57" r="2.988"/><circle cx="545.41" cy="359.16" r="2.988"/><circle cx="588.26" cy="377.14" r="2.988"/><circle cx="453.67" cy="372.35" r="2.988"/><circle cx="518.67" cy="368.72" r="2.988"/><circle cx="586.02" cy="365.09" r="2.988"/><circle cx="494.10" cy="377.04" r="2.988"/><circle cx="497.89" cy="373.13" r="2.988"/><circle cx="417.33" cy="381.85" r="2.988"/><circle cx="585.35" cy="376.36" r="2.988"/><circle cx="508.21" cy="354.44" r="2.988"/><circle cx="493.14" cy="360.07" r="2.988"/><circle cx="554.07" cy="371.06" r="2.988"/><circle cx="597.45" cy="365.49" r="2.988"/><circle cx="600.38" cy="360.24" r="2.988"/><circle cx="485.33" cy="375.63" r="2.988"/><circle cx="543.72" cy="354.48" r="2.988"/><circle cx="495.22" cy="373.64" r="2.988"/><circle cx="594.36" cy="378.69" r="2.988"/><circle cx="584.41" cy="372.13" r="2.988"/><circle cx="555.46" cy="370.81" r="2.988"/><circle cx="590.99" cy="368.41" r="2.988"/><circle cx="522.09" cy="368.99" r="2.988"/><circle cx="535.54" cy="382.03" r="2.988"/><circle cx="445.84" cy="369.78" r="2.988"/><circle cx="565.60" cy="359.05" r="2.988"/><circle cx="473.41" cy="369.01" r="2.988"/><circle cx="533.51" cy="354.97" r="2.988"/><circle cx="410.58" cy="372.49" r="2.988"/><circle cx="497.40" cy="364.60" r="2.988"/><circle cx="545.37" cy="379.09" r="2.988"/><circle cx="548.65" cy="360.62" r="2.988"/><circle cx="533.94" cy="373.86" r="2.988"/><circle cx="465.47" cy="361.63" r="2.988"/><circle cx="553.84" cy="375.81" r="2.988"/><circle cx="555.35" cy="370.12" r="2.988"/><circle cx="539.69" cy="363.08" r="2.988"/><circle cx="492.94" cy="367.89" r="2.988"/><circle cx="443.53" cy="370.23" r="2.988"/><circle cx="532.37" cy="355.38" r="2.988"/><circle cx="421.52" cy="380.37" r="2.988"/><circle cx="611.35" cy="379.99" r="2.988"/><circle cx="487.56" cy="371.70" r="2.988"/><circle cx="472.26" cy="356.70" r="2.988"/><circle cx="509.10" cy="368.58" r="2.988"/><circle cx="432.93" cy="376.00" r="2.988"/><circle cx="604.31" cy="379.85" r="2.988"/><circle cx="625.26" cy="373.65" r="2.988"/><circle cx="590.93" cy="373.07" r="2.988"/><circle cx="536.14" cy="373.29" r="2.988"/><circle cx="616.73" cy="370.24" r="2.988"/><circle cx="482.69" cy="376.62" r="2.988"/><circle cx="512.27" cy="361.44" r="2.988"/><circle cx="447.80" cy="376.36" r="2.988"/><circle cx="503.40" cy="379.86" r="2.988"/><circle cx="613.85" cy="375.34" r="2.988"/><circle cx="555.82" cy="358.11" r="2.988"/><circle cx="529.97" cy="378.68" r="2.988"/><circle cx="527.84" cy="376.53" r="2.988"/><circle cx="549.60" cy="358.73" r="2.988"/><circle cx="544.07" cy="375.36" r="2.988"/><circle cx="509.51" cy="363.23" r="2.988"/><circle cx="522.32" cy="381.85" r="2.988"/><circle cx="432.38" cy="361.01" r="2.988"/><circle cx="507.51" cy="377.23" r="2.988"/><circle cx="558.32" cy="378.26" r="2.988"/><circle cx="459.17" cy="366.97" r="2.988"/><circle cx="470.94" cy="353.61" r="2.988"/><circle cx="586.88" cy="356.34" r="2.988"/><circle cx="439.97" cy="366.65" r="2.988"/><circle cx="453.05" cy="359.52" r="2.988"/><circle cx="589.88" cy="353.85" r="2.988"/><circle cx="436.69" cy="371.67" r="2.988"/><circle cx="476.12" cy="378.99" r="2.988"/><circle cx="610.06" cy="362.95" r="2.988"/><circle cx="500.81" cy="374.55" r="2.988"/><circle cx="589.66" cy="375.95" r="2.988"/><circle cx="578.04" cy="372.69" r="2.988"/><circle cx="414.51" cy="382.36" r="2.988"/><circle cx="458.35" cy="383.36" r="2.988"/><circle cx="610.39" cy="376.76" r="2.988"/><circle cx="480.69" cy="370.77" r="2.988"/><circle cx="498.83" cy="366.74" r="2.988"/><circle cx="615.43" cy="356.50" r="2.988"/><circle cx="434.21" cy="364.29" r="2.988"/><circle cx="623.53" cy="357.72" r="2.988"/><circle cx="552.16" cy="369.84" r="2.988"/><circle cx="548.16" cy="367.22" r="2.988"/><circle cx="410.31" cy="370.95" r="2.988"/><circle cx="548.65" cy="380.57" r="2.988"/><circle cx="590.69" cy="381.20" r="2.988"/><circle cx="496.67" cy="366.39" r="2.988"/><circle cx="426.18" cy="377.85" r="2.988"/><circle cx="439.12" cy="365.37" r="2.988"/><circle cx="427.16" cy="373.36" r="2.988"/><circle cx="501.26" cy="384.46" r="2.988"/><circle cx="589.57" cy="371.50" r="2.988"/><circle cx="423.01" cy="373.74" r="2.988"/><circle cx="499.24" cy="380.80" r="2.988"/><circle cx="498.16" cy="376.82" r="2.988"/><circle cx="497.55" cy="376.05" r="2.988"/><circle cx="525.81" cy="375.40" r="2.988"/><circle cx="527.68" cy="368.02" r="2.988"/><circle cx="454.94" cy="378.52" r="2.988"/><circle cx="584.60" cy="373.73" r="2.988"/><circle cx="523.68" cy="370.52" r="2.988"/><circle cx="487.45" cy="357.34" r="2.988"/><circle cx="621.87" cy="379.67" r="2.988"/><circle cx="565.14" cy="380.63" r="2.988"/><circle cx="445.93" cy="378.05" r="2.988"/><circle cx="622.97" cy="377.52" r="2.988"/><circle cx="537.12" cy="378.62" r="2.988"/><circle cx="484.86" cy="380.73" r="2.988"/><circle cx="462.27" cy="377.72" r="2.988"/><circle cx="425.02" cy="377.47" r="2.988"/><circle cx="463.70" cy="373.08" r="2.988"/><circle cx="473.60" cy="369.57" r="2.988"/><circle cx="485.70" cy="375.09" r="2.988"/><circle cx="627.11" cy="378.51" r="2.988"/><circle cx="540.24" cy="380.19" r="2.988"/><circle cx="452.33" cy="376.78" r="2.988"/><circle cx="491.51" cy="378.45" r="2.988"/><circle cx="505.08" cy="373.06" r="2.988"/><circle cx="428.38" cy="361.91" r="2.988"/><circle cx="512.99" cy="367.74" r="2.988"/><circle cx="521.76" cy="377.84" r="2.988"/><circle cx="609.90" cy="382.31" r="2.988"/><circle cx="505.27" cy="381.01" r="2.988"/><circle cx="561.37" cy="373.87" r="2.988"/><circle cx="559.39" cy="375.10" r="2.988"/><circle cx="448.55" cy="368.68" r="2.988"/><circle cx="534.69" cy="380.49" r="2.988"/><circle cx="508.74" cy="376.93" r="2.988"/><circle cx="445.85" cy="368.60" r="2.988"/><circle cx="415.38" cy="371.36" r="2.988"/><circle cx="628.84" cy="372.39" r="2.988"/><circle cx="430.00" cy="360.27" r="2.988"/><circle cx="604.85" cy="379.71" r="2.988"/><circle cx="490.62" cy="377.98" r="2.988"/><circle cx="428.07" cy="371.41" r="2.988"/><circle cx="621.98" cy="371.42" r="2.988"/><circle cx="555.13" cy="354.52" r="2.988"/><circle cx="498.97" cy="354.77" r="2.988"/><circle cx="594.16" cy="370.95" r="2.988"/><circle cx="565.56" cy="366.44" r="2.988"/><circle cx="501.39" cy="368.28" r="2.988"/><circle cx="567.78" cy="379.25" r="2.988"/><circle cx="572.17" cy="370.62" r="2.988"/><circle cx="447.94" cy="376.06" r="2.988"/><circle cx="567.45" cy="375.18" r="2.988"/><circle cx="611.42" cy="378.75" r="2.988"/><circle cx="561.15" cy="384.30" r="2.988"/><circle cx="585.68" cy="362.75" r="2.988"/><circle cx="627.55" cy="367.72" r="2.988"/><circle cx="585.02" cy="366.65" r="2.988"/><circle cx="513.30" cy="376.36" r="2.988"/><circle cx="533.59" cy="374.19" r="2.988"/><circle cx="578.54" cy="378.35" r="2.988"/><circle cx="549.00" cy="370.63" r="2.988"/><circle cx="425.70" cy="363.40" r="2.988"/><circle cx="423.33" cy="365.76" r="2.988"/><circle cx="470.00" cy="358.24" r="2.988"/><circle cx="589.84" cy="376.83" r="2.988"/><circle cx="458.79" cy="368.17" r="2.988"/><circle cx="480.19" cy="379.39" r="2.988"/><circle cx="590.90" cy="372.00" r="2.988"/><circle cx="438.44" cy="379.78" r="2.988"/><circle cx="471.58" cy="371.92" r="2.988"/><circle cx="466.44" cy="371.89" r="2.988"/><circle cx="420.53" cy="375.38" r="2.988"/><circle cx="573.22" cy="375.33" r="2.988"/><circle cx="480.54" cy="367.90" r="2.988"/><circle cx="499.65" cy="373.06" r="2.988"/><circle cx="483.27" cy="374.35" r="2.988"/><circle cx="424.58" cy="379.72" r="2.988"/><circle cx="595.67" cy="376.46" r="2.988"/><circle cx="439.66" cy="363.05" r="2.988"/><circle cx="472.83" cy="355.26" r="2.988"/><circle cx="568.43" cy="374.94" r="2.988"/><circle cx="486.63" cy="361.93" r="2.988"/><circle cx="521.43" cy="361.78" r="2.988"/><circle cx="482.64" cy="377.57" r="2.988"/><circle cx="533.15" cy="376.60" r="2.988"/><circle cx="479.81" cy="368.32" r="2.988"/><circle cx="510.37" cy="376.06" r="2.988"/><circle cx="412.08" cy="356.65" r="2.988"/><circle cx="413.46" cy="375.07" r="2.988"/><circle cx="521.45" cy="367.34" r="2.988"/><circle cx="589.56" cy="368.00" r="2.988"/><circle cx="629.45" cy="377.65" r="2.988"/><circle cx="586.52" cy="362.17" r="2.988"/><circle cx="525.30" cy="375.68" r="2.988"/><circle cx="551.64" cy="379.79" r="2.988"/><circle cx="557.58" cy="381.65" r="2.988"/><circle cx="570.37" cy="373.58" r="2.988"/><circle cx="627.96" cy="369.92" r="2.988"/><circle cx="485.60" cy="376.64" r="2.988"/><circle cx="508.15" cy="363.28" r="2.988"/><circle cx="581.21" cy="376.71" r="2.988"/><circle cx="457.57" cy="363.04" r="2.988"/><circle cx="431.20" cy="382.45" r="2.988"/><circle cx="607.55" cy="376.79" r="2.988"/><circle cx="413.63" cy="378.68" r="2.988"/><circle cx="606.45" cy="373.66" r="2.988"/><circle cx="611.04" cy="375.31" r="2.988"/><circle cx="446.50" cy="374.57" r="2.988"/><circle cx="575.98" cy="362.85" r="2.988"/><circle cx="473.56" cy="371.12" r="2.988"/><circle cx="469.66" cy="370.55" r="2.988"/><circle cx="626.15" cy="374.65" r="2.988"/><circle cx="604.93" cy="364.68" r="2.988"/><circle cx="578.00" cy="372.67" r="2.988"/><circle cx="505.90" cy="366.85" r="2.988"/><circle cx="626.65" cy="359.52" r="2.988"/><circle cx="535.42" cy="370.41" r="2.988"/><circle cx="625.37" cy="373.88" r="2.988"/><circle cx="568.56" cy="376.77" r="2.988"/><circle cx="420.40" cy="359.66" r="2.988"/><circle cx="585.43" cy="366.24" r="2.988"/><circle cx="594.17" cy="365.01" r="2.988"/><circle cx="603.63" cy="377.51" r="2.988"/><circle cx="546.74" cy="373.85" r="2.988"/><circle cx="418.38" cy="361.27" r="2.988"/><circle cx="600.64" cy="377.08" r="2.988"/><circle cx="502.80" cy="364.45" r="2.988"/><circle cx="453.30" cy="371.96" r="2.988"/><circle cx="455.91" cy="377.56" r="2.988"/><circle cx="454.39" cy="374.90" r="2.988"/><circle cx="589.26" cy="380.73" r="2.988"/><circle cx="426.09" cy="368.93" r="2.988"/><circle cx="611.79" cy="367.43" r="2.988"/><circle cx="413.83" cy="382.68" r="2.988"/><circle cx="568.89" cy="376.14" r="2.988"/><circle cx="460.76" cy="366.11" r="2.988"/><circle cx="523.19" cy="377.89" r="2.988"/><circle cx="449.06" cy="371.99" r="2.988"/><circle cx="607.72" cy="364.77" r="2.988"/><circle cx="444.36" cy="371.32" r="2.988"/><circle cx="512.65" cy="379.49" r="2.988"/><circle cx="543.78" cy="359.83" r="2.988"/><circle cx="509.66" cy="366.83" r="2.988"/><circle cx="457.60" cy="371.43" r="2.988"/><circle cx="473.81" cy="375.61" r="2.988"/><circle cx="615.37" cy="371.06" r="2.988"/><circle cx="437.63" cy="374.63" r="2.988"/><circle cx="413.98" cy="379.58" r="2.988"/><circle cx="609.70" cy="379.50" r="2.988"/><circle cx="604.76" cy="381.86" r="2.988"/><circle cx="560.60" cy="378.46" r="2.988"/><circle cx="513.78" cy="377.08" r="2.988"/><circle cx="619.19" cy="369.87" r="2.988"/><circle cx="500.86" cy="371.11" r="2.988"/><circle cx="412.97" cy="370.88" r="2.988"/><circle cx="505.71" cy="364.13" r="2.988"/><circle cx="526.35" cy="380.18" r="2.988"/><circle cx="530.54" cy="374.67" r="2.988"/><circle cx="605.19" cy="380.63" r="2.988"/><circle cx="425.00" cy="374.16" r="2.988"/><circle cx="597.72" cy="380.65" r="2.988"/><circle cx="524.83" cy="381.05" r="2.988"/><circle cx="570.93" cy="379.93" r="2.988"/><circle cx="500.99" cy="374.66" r="2.988"/><circle cx="475.17" cy="366.30" r="2.988"/><circle cx="483.85" cy="376.46" r="2.988"/><circle cx="470.41" cy="366.98" r="2.988"/><circle cx="509.74" cy="377.30" r="2.988"/><circle cx="541.43" cy="376.37" r="2.988"/><circle cx="592.62" cy="373.23" r="2.988"/><circle cx="448.43" cy="380.76" r="2.988"/><circle cx="508.97" cy="373.64" r="2.988"/><circle cx="526.98" cy="371.03" r="2.988"/><circle cx="589.82" cy="364.02" r="2.988"/><circle cx="566.10" cy="381.42" r="2.988"/><circle cx="546.99" cy="364.99" r="2.988"/><circle cx="558.23" cy="371.33" r="2.988"/><circle cx="508.55" cy="371.14" r="2.988"/><circle cx="587.25" cy="381.62" r="2.988"/><circle cx="594.03" cy="361.47" r="2.988"/><circle cx="534.48" cy="376.54" r="2.988"/><circle cx="435.82" cy="371.80" r="2.988"/><circle cx="503.73" cy="371.96" r="2.988"/><circle cx="468.26" cy="359.77" r="2.988"/><circle cx="452.25" cy="370.64" r="2.988"/><circle cx="475.29" cy="353.42" r="2.988"/><circle cx="590.07" cy="377.32" r="2.988"/><circle cx="486.51" cy="369.21" r="2.988"/><circle cx="504.49" cy="371.18" r="2.988"/><circle cx="494.19" cy="372.45" r="2.988"/><circle cx="450.67" cy="370.05" r="2.988"/><circle cx="535.61" cy="371.72" r="2.988"/><circle cx="501.65" cy="375.55" r="2.988"/><circle cx="615.82" cy="369.72" r="2.988"/><circle cx="545.95" cy="380.51" r="2.988"/><circle cx="624.91" cy="373.09" r="2.988"/><circle cx="598.76" cy="373.57" r="2.988"/><circle cx="517.91" cy="377.66" r="2.988"/><circle cx="413.72" cy="371.36" r="2.988"/><circle cx="456.89" cy="369.01" r="2.988"/><circle cx="436.33" cy="379.43" r="2.988"/><circle cx="572.11" cy="376.21" r="2.988"/><circle cx="440.38" cy="381.20" r="2.988"/><circle cx="551.81" cy="370.74" r="2.988"/><circle cx="480.96" cy="380.56" r="2.988"/><circle cx="515.66" cy="377.37" r="2.988"/><circle cx="576.31" cy="373.65" r="2.988"/><circle cx="475.65" cy="373.59" r="2.988"/><circle cx="447.84" cy="382.46" r="2.988"/><circle cx="473.38" cy="357.27" r="2.988"/><circle cx="617.37" cy="377.36" r="2.988"/><circle cx="531.54" cy="370.45" r="2.988"/><circle cx="473.18" cy="377.49" r="2.988"/><circle cx="442.13" cy="370.77" r="2.988"/><circle cx="425.11" cy="375.28" r="2.988"/><circle cx="483.48" cy="375.85" r="2.988"/><circle cx="544.98" cy="373.18" r="2.988"/><circle cx="510.45" cy="370.97" r="2.988"/><circle cx="588.51" cy="370.72" r="2.988"/><circle cx="628.59" cy="368.52" r="2.988"/><circle cx="535.36" cy="376.69" r="2.988"/><circle cx="485.88" cy="380.27" r="2.988"/><circle cx="584.66" cy="376.95" r="2.988"/><circle cx="429.61" cy="375.71" r="2.988"/><circle cx="576.94" cy="370.51" r="2.988"/><circle cx="603.76" cy="374.24" r="2.988"/><circle cx="580.57" cy="375.97" r="2.988"/><circle cx="431.79" cy="380.09" r="2.988"/><circle cx="537.74" cy="370.75" r="2.988"/><circle cx="586.31" cy="379.79" r="2.988"/><circle cx="500.52" cy="372.38" r="2.988"/><circle cx="595.50" cy="368.53" r="2.988"/><circle cx="446.58" cy="370.15" r="2.988"/><circle cx="526.25" cy="378.68" r="2.988"/><circle cx="532.72" cy="375.23" r="2.988"/><circle cx="583.24" cy="357.74" r="2.988"/><circle cx="500.61" cy="380.30" r="2.988"/><circle cx="466.84" cy="368.78" r="2.988"/><circle cx="566.52" cy="373.86" r="2.988"/><circle cx="435.21" cy="370.37" r="2.988"/><circle cx="490.91" cy="374.59" r="2.988"/><circle cx="512.92" cy="379.46" r="2.988"/><circle cx="583.14" cy="371.48" r="2.988"/><circle cx="503.41" cy="384.57" r="2.988"/><circle cx="533.60" cy="362.26" r="2.988"/><circle cx="559.10" cy="365.04" r="2.988"/><circle cx="558.49" cy="374.93" r="2.988"/><circle cx="621.74" cy="371.98" r="2.988"/><circle cx="511.85" cy="372.18" r="2.988"/><circle cx="535.70" cy="354.56" r="2.988"/><circle cx="414.38" cy="381.93" r="2.988"/><circle cx="452.26" cy="376.20" r="2.988"/><circle cx="464.76" cy="374.36" r="2.988"/><circle cx="456.51" cy="365.45" r="2.988"/><circle cx="524.13" cy="367.34" r="2.988"/><circle cx="453.90" cy="374.08" r="2.988"/><circle cx="535.32" cy="383.96" r="2.988"/><circle cx="591.50" cy="369.56" r="2.988"/><circle cx="426.07" cy="374.37" r="2.988"/><circle cx="463.47" cy="379.62" r="2.988"/><circle cx="519.21" cy="369.97" r="2.988"/><circle cx="420.26" cy="373.71" r="2.988"/><circle cx="441.59" cy="376.05" r="2.988"/><circle cx="536.40" cy="376.68" r="2.988"/><circle cx="497.87" cy="372.31" r="2.988"/><circle cx="608.60" cy="377.05" r="2.988"/><circle cx="535.41" cy="374.60" r="2.988"/><circle cx="576.40" cy="357.66" r="2.988"/><circle cx="486.09" cy="373.12" r="2.988"/><circle cx="492.94" cy="376.95" r="2.988"/><circle cx="597.56" cy="372.30" r="2.988"/><circle cx="545.26" cy="359.33" r="2.988"/><circle cx="610.96" cy="362.15" r="2.988"/><circle cx="465.56" cy="368.82" r="2.988"/><circle cx="435.29" cy="360.42" r="2.988"/><circle cx="558.86" cy="366.51" r="2.988"/><circle cx="437.60" cy="368.75" r="2.988"/><circle cx="426.81" cy="374.00" r="2.988"/><circle cx="495.87" cy="378.89" r="2.988"/><circle cx="560.90" cy="367.28" r="2.988"/><circle cx="489.27" cy="369.89" r="2.988"/><circle cx="575.52" cy="355.62" r="2.988"/><circle cx="510.12" cy="375.81" r="2.988"/><circle cx="472.70" cy="361.63" r="2.988"/><circle cx="527.46" cy="377.56" r="2.988"/><circle cx="542.89" cy="357.35" r="2.988"/><circle cx="443.05" cy="353.56" r="2.988"/><circle cx="540.04" cy="367.32" r="2.988"/><circle cx="447.13" cy="363.29" r="2.988"/><circle cx="622.76" cy="353.53" r="2.988"/><circle cx="526.86" cy="353.96" r="2.988"/><circle cx="455.24" cy="358.28" r="2.988"/><circle cx="419.46" cy="366.05" r="2.988"/><circle cx="457.24" cy="367.90" r="2.988"/><circle cx="480.03" cy="364.39" r="2.988"/><circle cx="536.07" cy="354.31" r="2.988"/><circle cx="555.85" cy="356.33" r="2.988"/><circle cx="566.41" cy="361.79" r="2.988"/><circle cx="507.00" cy="356.96" r="2.988"/><circle cx="548.53" cy="354.92" r="2.988"/><circle cx="531.70" cy="363.65" r="2.988"/><circle cx="475.24" cy="355.32" r="2.988"/><circle cx="458.22" cy="364.09" r="2.988"/><circle cx="497.81" cy="363.23" r="2.988"/><circle cx="561.58" cy="367.35" r="2.988"/><circle cx="439.66" cy="365.68" r="2.988"/><circle cx="549.80" cy="360.01" r="2.988"/><circle cx="414.68" cy="367.65" r="2.988"/><circle cx="450.47" cy="360.09" r="2.988"/><circle cx="557.23" cy="365.54" r="2.988"/><circle cx="587.60" cy="357.14" r="2.988"/><circle cx="578.62" cy="366.14" r="2.988"/><circle cx="560.24" cy="365.00" r="2.988"/><circle cx="465.93" cy="364.10" r="2.988"/><circle cx="627.08" cy="359.55" r="2.988"/><circle cx="542.11" cy="356.28" r="2.988"/><circle cx="610.01" cy="357.08" r="2.988"/><circle cx="615.79" cy="357.25" r="2.988"/><circle cx="462.54" cy="358.12" r="2.988"/><circle cx="623.12" cy="360.12" r="2.988"/><circle cx="427.96" cy="363.03" r="2.988"/><circle cx="550.10" cy="365.39" r="2.988"/><circle cx="466.50" cy="355.48" r="2.988"/><circle cx="430.79" cy="362.07" r="2.988"/><circle cx="535.19" cy="358.57" r="2.988"/><circle cx="456.81" cy="367.01" r="2.988"/><circle cx="582.84" cy="362.77" r="2.988"/><circle cx="511.50" cy="366.54" r="2.988"/><circle cx="469.37" cy="362.86" r="2.988"/><circle cx="412.71" cy="357.37" r="2.988"/><circle cx="562.11" cy="363.05" r="2.988"/><circle cx="549.91" cy="358.11" r="2.988"/><circle cx="586.97" cy="366.21" r="2.988"/><circle cx="494.28" cy="362.42" r="2.988"/><circle cx="611.06" cy="362.05" r="2.988"/><circle cx="415.30" cy="360.62" r="2.988"/><circle cx="611.92" cy="364.69" r="2.988"/><circle cx="578.07" cy="357.87" r="2.988"/><circle cx="432.61" cy="355.21" r="2.988"/><circle cx="626.93" cy="356.22" r="2.988"/><circle cx="429.84" cy="367.55" r="2.988"/><circle cx="575.08" cy="360.92" r="2.988"/><circle cx="463.80" cy="363.01" r="2.988"/><circle cx="561.88" cy="359.69" r="2.988"/><circle cx="593.96" cy="366.79" r="2.988"/><circle cx="436.03" cy="357.42" r="2.988"/><circle cx="481.40" cy="374.33" r="2.988"/><circle cx="606.73" cy="359.57" r="2.988"/><circle cx="514.99" cy="385.47" r="2.988"/><circle cx="443.74" cy="374.30" r="2.988"/><circle cx="429.20" cy="372.37" r="2.988"/><circle cx="437.14" cy="362.73" r="2.988"/><circle cx="433.36" cy="364.82" r="2.988"/><circle cx="488.50" cy="380.90" r="2.988"/><circle cx="580.68" cy="377.38" r="2.988"/><circle cx="509.60" cy="365.40" r="2.988"/><circle cx="431.72" cy="374.25" r="2.988"/><circle cx="487.56" cy="378.63" r="2.988"/><circle cx="516.36" cy="359.94" r="2.988"/><circle cx="508.56" cy="362.39" r="2.988"/><circle cx="550.96" cy="376.05" r="2.988"/><circle cx="559.60" cy="370.61" r="2.988"/><circle cx="574.35" cy="359.98" r="2.988"/><circle cx="527.81" cy="379.94" r="2.988"/><circle cx="416.70" cy="360.54" r="2.988"/><circle cx="579.16" cy="361.23" r="2.988"/><circle cx="582.12" cy="365.66" r="2.988"/><circle cx="570.32" cy="366.79" r="2.988"/><circle cx="506.22" cy="366.82" r="2.988"/><circle cx="604.91" cy="370.76" r="2.988"/><circle cx="431.28" cy="369.70" r="2.988"/><circle cx="572.68" cy="380.47" r="2.988"/><circle cx="541.09" cy="370.25" r="2.988"/><circle cx="563.89" cy="367.16" r="2.988"/><circle cx="424.89" cy="372.40" r="2.988"/><circle cx="622.75" cy="366.98" r="2.988"/><circle cx="416.76" cy="373.17" r="2.988"/><circle cx="448.97" cy="363.50" r="2.988"/><circle cx="523.59" cy="365.81" r="2.988"/><circle cx="535.95" cy="383.51" r="2.988"/><circle cx="449.20" cy="364.46" r="2.988"/><circle cx="473.25" cy="378.03" r="2.988"/><circle cx="611.11" cy="383.72" r="2.988"/><circle cx="480.69" cy="382.61" r="2.988"/><circle cx="507.90" cy="376.93" r="2.988"/><circle cx="434.61" cy="371.31" r="2.988"/><circle cx="535.08" cy="376.75" r="2.988"/><circle cx="564.06" cy="380.30" r="2.988"/><circle cx="572.84" cy="364.46" r="2.988"/><circle cx="461.21" cy="375.53" r="2.988"/><circle cx="491.22" cy="361.53" r="2.988"/><circle cx="553.85" cy="379.15" r="2.988"/><circle cx="623.81" cy="366.68" r="2.988"/><circle cx="579.19" cy="375.99" r="2.988"/><circle cx="458.28" cy="362.21" r="2.988"/><circle cx="424.51" cy="367.90" r="2.988"/><circle cx="482.19" cy="367.00" r="2.988"/><circle cx="526.38" cy="383.40" r="2.988"/><circle cx="469.87" cy="364.96" r="2.988"/><circle cx="583.60" cy="376.08" r="2.988"/><circle cx="466.47" cy="365.27" r="2.988"/><circle cx="437.33" cy="362.33" r="2.988"/><circle cx="542.43" cy="382.57" r="2.988"/><circle cx="577.07" cy="385.57" r="2.988"/><circle cx="455.14" cy="364.78" r="2.988"/><circle cx="483.43" cy="358.88" r="2.988"/><circle cx="467.18" cy="360.79" r="2.988"/><circle cx="416.44" cy="373.80" r="2.988"/><circle cx="560.08" cy="362.66" r="2.988"/><circle cx="421.28" cy="385.34" r="2.988"/><circle cx="544.52" cy="384.36" r="2.988"/><circle cx="547.86" cy="369.72" r="2.988"/><circle cx="526.56" cy="371.23" r="2.988"/><circle cx="419.45" cy="362.90" r="2.988"/><circle cx="418.33" cy="379.46" r="2.988"/><circle cx="523.24" cy="373.05" r="2.988"/><circle cx="517.87" cy="358.29" r="2.988"/><circle cx="413.52" cy="377.52" r="2.988"/><circle cx="412.49" cy="374.68" r="2.988"/><circle cx="579.97" cy="368.99" r="2.988"/><circle cx="481.39" cy="358.14" r="2.988"/><circle cx="567.58" cy="380.88" r="2.988"/><circle cx="453.74" cy="366.65" r="2.988"/><circle cx="468.46" cy="374.40" r="2.988"/><circle cx="607.39" cy="374.78" r="2.988"/><circle cx="453.55" cy="378.81" r="2.988"/><circle cx="450.30" cy="308.50" r="2.988"/><circle cx="442.50" cy="314.00" r="2.988"/><circle cx="442.00" cy="318.40" r="2.988"/><circle cx="418.50" cy="330.30" r="2.988"/><circle cx="439.60" cy="326.30" r="2.988"/><circle cx="445.50" cy="328.40" r="2.988"/><circle cx="449.80" cy="328.00" r="2.988"/><circle cx="436.70" cy="334.50" r="2.988"/><circle cx="444.60" cy="337.40" r="2.988"/><circle cx="450.70" cy="336.90" r="2.988"/><circle cx="458.30" cy="335.90" r="2.988"/><circle cx="414.60" cy="340.50" r="2.988"/><circle cx="424.70" cy="339.20" r="2.988"/><circle cx="435.20" cy="340.90" r="2.988"/><circle cx="447.90" cy="341.90" r="2.988"/><circle cx="422.40" cy="344.20" r="2.988"/><circle cx="455.50" cy="344.70" r="2.988"/><circle cx="429.50" cy="347.80" r="2.988"/><circle cx="432.30" cy="348.90" r="2.988"/><circle cx="440.10" cy="349.40" r="2.988"/><circle cx="414.60" cy="349.40" r="2.988"/><circle cx="453.10" cy="346.00" r="2.988"/><circle cx="457.00" cy="348.00" r="2.988"/><circle cx="469.40" cy="310.00" r="2.988"/><circle cx="485.50" cy="319.50" r="2.988"/><circle cx="490.20" cy="325.10" r="2.988"/><circle cx="474.40" cy="326.00" r="2.988"/><circle cx="499.80" cy="324.70" r="2.988"/><circle cx="505.50" cy="323.90" r="2.988"/><circle cx="506.00" cy="329.30" r="2.988"/><circle cx="505.30" cy="334.80" r="2.988"/><circle cx="506.00" cy="316.10" r="2.988"/><circle cx="511.25" cy="311.90" r="2.988"/><circle cx="467.00" cy="333.80" r="2.988"/><circle cx="471.90" cy="334.80" r="2.988"/><circle cx="487.30" cy="338.50" r="2.988"/><circle cx="492.00" cy="337.90" r="2.988"/><circle cx="494.60" cy="341.10" r="2.988"/><circle cx="497.90" cy="344.20" r="2.988"/><circle cx="496.10" cy="346.30" r="2.988"/><circle cx="464.90" cy="344.70" r="2.988"/><circle cx="473.20" cy="346.80" r="2.988"/><circle cx="515.20" cy="311.90" r="2.988"/><circle cx="515.20" cy="315.50" r="2.988"/><circle cx="524.10" cy="314.00" r="2.988"/><circle cx="543.30" cy="308.80" r="2.988"/><circle cx="550.80" cy="311.60" r="2.988"/><circle cx="545.90" cy="315.00" r="2.988"/><circle cx="523.50" cy="329.30" r="2.988"/><circle cx="513.00" cy="332.20" r="2.988"/><circle cx="540.70" cy="331.70" r="2.988"/><circle cx="550.60" cy="330.10" r="2.988"/><circle cx="556.40" cy="329.60" r="2.988"/><circle cx="515.70" cy="337.90" r="2.988"/><circle cx="522.50" cy="338.70" r="2.988"/><circle cx="516.25" cy="343.10" r="2.988"/><circle cx="512.00" cy="345.75" r="2.988"/><circle cx="536.60" cy="340.00" r="2.988"/><circle cx="545.90" cy="343.70" r="2.988"/><circle cx="563.10" cy="341.60" r="2.988"/><circle cx="567.00" cy="342.10" r="2.988"/><circle cx="528.75" cy="347.80" r="2.988"/><circle cx="538.60" cy="348.40" r="2.988"/><circle cx="547.00" cy="348.90" r="2.988"/><circle cx="555.80" cy="348.40" r="2.988"/><circle cx="562.60" cy="343.90" r="2.988"/><circle cx="569.30" cy="319.50" r="2.988"/><circle cx="590.70" cy="313.20" r="2.988"/><circle cx="591.80" cy="317.80" r="2.988"/><circle cx="599.00" cy="312.30" r="2.988"/><circle cx="599.40" cy="319.90" r="2.988"/><circle cx="604.10" cy="326.00" r="2.988"/><circle cx="605.70" cy="328.20" r="2.988"/><circle cx="610.80" cy="332.10" r="2.988"/><circle cx="611.30" cy="333.25" r="2.988"/><circle cx="604.60" cy="337.90" r="2.988"/><circle cx="617.50" cy="319.30" r="2.988"/><circle cx="614.10" cy="324.30" r="2.988"/><circle cx="622.80" cy="325.70" r="2.988"/><circle cx="628.60" cy="333.25" r="2.988"/><circle cx="620.20" cy="335.50" r="2.988"/><circle cx="615.80" cy="342.70" r="2.988"/><circle cx="624.20" cy="342.20" r="2.988"/><circle cx="626.40" cy="341.10" r="2.988"/><circle cx="587.30" cy="326.60" r="2.988"/><circle cx="584.50" cy="333.25" r="2.988"/><circle cx="582.30" cy="338.80" r="2.988"/><circle cx="580.60" cy="340.00" r="2.988"/><circle cx="578.40" cy="343.30" r="2.988"/><circle cx="576.20" cy="344.40" r="2.988"/><circle cx="580.60" cy="346.60" r="2.988"/><circle cx="569.50" cy="342.70" r="2.988"/><circle cx="587.90" cy="350.00" r="2.988"/><circle cx="597.40" cy="350.50" r="2.988"/><circle cx="613.50" cy="349.40" r="2.988"/><circle cx="583.40" cy="348.90" r="2.988"/><circle cx="410.70" cy="387.25" r="2.988"/><circle cx="420.20" cy="395.27" r="2.988"/><circle cx="443.40" cy="393.30" r="2.988"/><circle cx="490.20" cy="389.00" r="2.988"/><circle cx="497.90" cy="386.40" r="2.988"/><circle cx="421.80" cy="385.80" r="2.988"/><circle cx="585.20" cy="391.70" r="2.988"/><circle cx="609.60" cy="389.40" r="2.988"/><circle cx="586.40" cy="386.40" r="2.988"/><circle cx="522.10" cy="387.60" r="2.988"/><circle cx="532.50" cy="384.60" r="2.988"/></g>
</g>
</svg></body></html>
